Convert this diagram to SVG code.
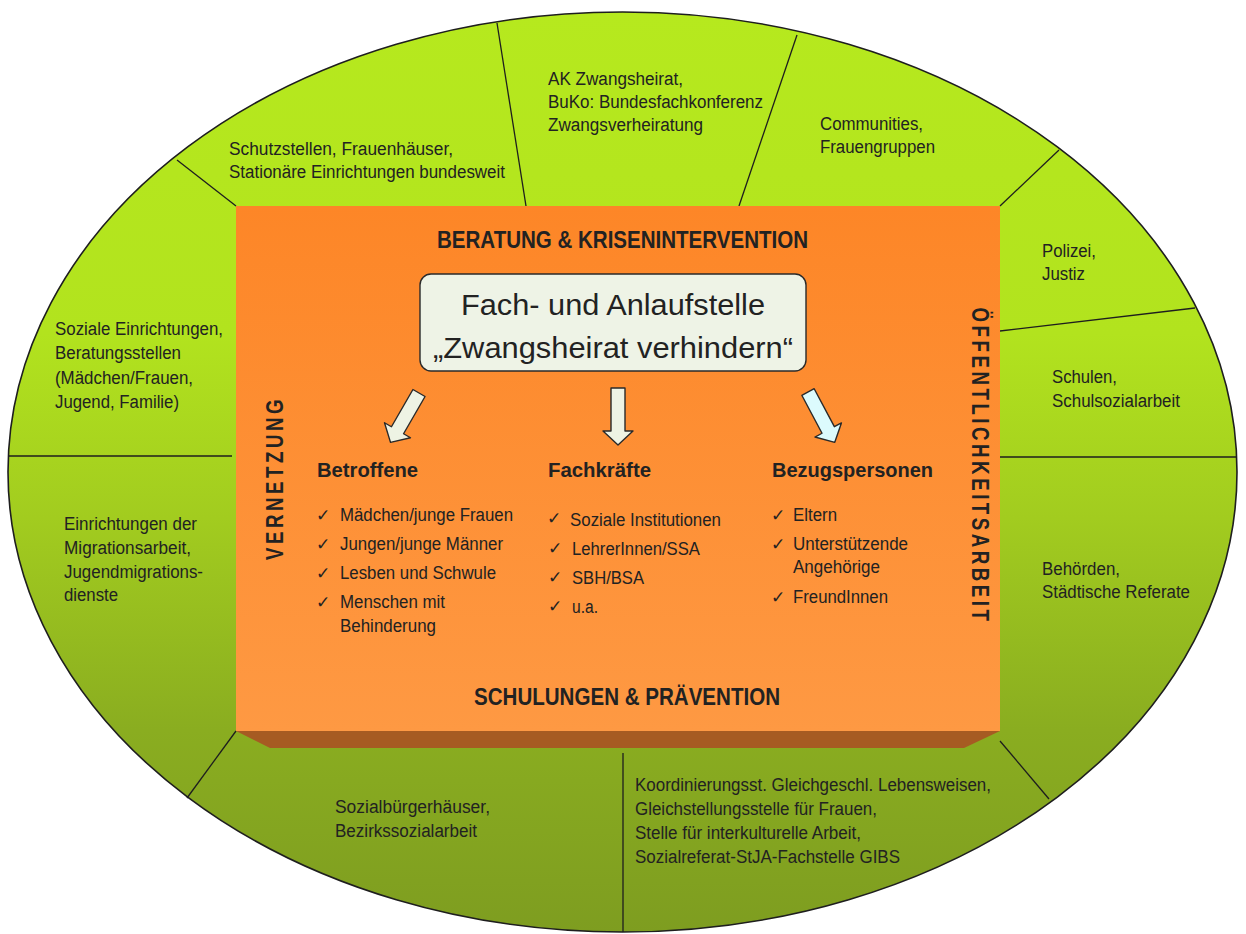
<svg xmlns="http://www.w3.org/2000/svg" width="1246" height="934" viewBox="0 0 1246 934">
  <defs>
    <linearGradient id="ringFill" x1="0" y1="0" x2="0" y2="1">
      <stop offset="0" stop-color="#b6e91e"/>
      <stop offset="0.35" stop-color="#b2e31e"/>
      <stop offset="0.55" stop-color="#a2cc1f"/>
      <stop offset="0.78" stop-color="#8aad20"/>
      <stop offset="1" stop-color="#7e9d20"/>
    </linearGradient>
    <linearGradient id="boxFill" x1="0" y1="0" x2="0" y2="1">
      <stop offset="0" stop-color="#fd8627"/>
      <stop offset="1" stop-color="#fe9943"/>
    </linearGradient>
    <path id="blockArrow" d="M -7 0 L 7 0 L 7 43 L 15 43 L 0 57 L -15 43 L -7 43 Z"/>
  </defs>
  <style>
    .ring { font-family: "Liberation Sans", Arial, sans-serif; font-size: 18px; fill: #222; }
    .head { font-family: "Liberation Sans", Arial, sans-serif; font-weight: bold; fill: #222; }
    .item { font-family: "Liberation Sans", Arial, sans-serif; font-size: 18px; fill: #222; }
    .chk { font-family: "DejaVu Sans", sans-serif; font-size: 17px; fill: #222; }
    .title { font-family: "Liberation Sans", Arial, sans-serif; font-size: 30px; fill: #222; }
    .vert { font-family: "Liberation Sans", Arial, sans-serif; font-weight: bold; font-size: 24px; letter-spacing: 4.5px; fill: #222; }
    .divider { stroke: #1e1e1e; stroke-width: 1.3; fill: none; }
    .arrow { stroke: #2a2a2a; stroke-width: 1.4; stroke-linejoin: round; }
  </style>

  <!-- outer ring -->
  <ellipse id="ring" cx="622.5" cy="472" rx="614.5" ry="460" fill="url(#ringFill)" stroke="#1e1e1e" stroke-width="1.6"/>

  <!-- sector dividers -->
  <g id="dividers" class="divider">
    <line x1="177" y1="160" x2="236" y2="206"/>
    <line x1="497" y1="23" x2="526" y2="206"/>
    <line x1="797" y1="35" x2="739" y2="206"/>
    <line x1="1059" y1="150" x2="1000" y2="206"/>
    <line x1="1000" y1="331" x2="1195" y2="308"/>
    <line x1="1000" y1="457" x2="1237" y2="457"/>
    <line x1="8" y1="456" x2="232" y2="456"/>
    <line x1="236" y1="731" x2="187" y2="798"/>
    <line x1="623" y1="753" x2="623" y2="932"/>
    <line x1="1000" y1="741" x2="1049" y2="799"/>
  </g>

  <!-- ring sectors -->
  <g id="sector-schutzstellen" class="ring">
    <text x="229" y="155" textLength="224" lengthAdjust="spacingAndGlyphs">Schutzstellen, Frauenhäuser,</text>
    <text x="229" y="178" textLength="276" lengthAdjust="spacingAndGlyphs">Stationäre Einrichtungen bundesweit</text>
  </g>
  <g id="sector-ak" class="ring">
    <text x="548" y="85" textLength="135" lengthAdjust="spacingAndGlyphs">AK Zwangsheirat,</text>
    <text x="548" y="108" textLength="215" lengthAdjust="spacingAndGlyphs">BuKo: Bundesfachkonferenz</text>
    <text x="548" y="131" textLength="155" lengthAdjust="spacingAndGlyphs">Zwangsverheiratung</text>
  </g>
  <g id="sector-communities" class="ring">
    <text x="820" y="130" textLength="103" lengthAdjust="spacingAndGlyphs">Communities,</text>
    <text x="820" y="153" textLength="115" lengthAdjust="spacingAndGlyphs">Frauengruppen</text>
  </g>
  <g id="sector-polizei" class="ring">
    <text x="1042" y="257" textLength="54" lengthAdjust="spacingAndGlyphs">Polizei,</text>
    <text x="1042" y="280" textLength="43" lengthAdjust="spacingAndGlyphs">Justiz</text>
  </g>
  <g id="sector-schulen" class="ring">
    <text x="1052" y="383" textLength="65" lengthAdjust="spacingAndGlyphs">Schulen,</text>
    <text x="1052" y="407" textLength="128" lengthAdjust="spacingAndGlyphs">Schulsozialarbeit</text>
  </g>
  <g id="sector-behoerden" class="ring">
    <text x="1042" y="575" textLength="78" lengthAdjust="spacingAndGlyphs">Behörden,</text>
    <text x="1042" y="598" textLength="148" lengthAdjust="spacingAndGlyphs">Städtische Referate</text>
  </g>
  <g id="sector-koordinierung" class="ring">
    <text x="635" y="791" textLength="356" lengthAdjust="spacingAndGlyphs">Koordinierungsst. Gleichgeschl. Lebensweisen,</text>
    <text x="635" y="815" textLength="242" lengthAdjust="spacingAndGlyphs">Gleichstellungsstelle für Frauen,</text>
    <text x="635" y="839" textLength="226" lengthAdjust="spacingAndGlyphs">Stelle für interkulturelle Arbeit,</text>
    <text x="635" y="863" textLength="265" lengthAdjust="spacingAndGlyphs">Sozialreferat-StJA-Fachstelle GIBS</text>
  </g>
  <g id="sector-sozialbuergerhaeuser" class="ring">
    <text x="335" y="813" textLength="155" lengthAdjust="spacingAndGlyphs">Sozialbürgerhäuser,</text>
    <text x="335" y="837" textLength="142" lengthAdjust="spacingAndGlyphs">Bezirkssozialarbeit</text>
  </g>
  <g id="sector-migration" class="ring">
    <text x="64" y="530" textLength="133" lengthAdjust="spacingAndGlyphs">Einrichtungen der</text>
    <text x="64" y="554" textLength="127" lengthAdjust="spacingAndGlyphs">Migrationsarbeit,</text>
    <text x="64" y="578" textLength="139" lengthAdjust="spacingAndGlyphs">Jugendmigrations-</text>
    <text x="64" y="601" textLength="54" lengthAdjust="spacingAndGlyphs">dienste</text>
  </g>
  <g id="sector-soziale" class="ring">
    <text x="55" y="335" textLength="168" lengthAdjust="spacingAndGlyphs">Soziale Einrichtungen,</text>
    <text x="55" y="359" textLength="126" lengthAdjust="spacingAndGlyphs">Beratungsstellen</text>
    <text x="55" y="384" textLength="138" lengthAdjust="spacingAndGlyphs">(Mädchen/Frauen,</text>
    <text x="55" y="408" textLength="124" lengthAdjust="spacingAndGlyphs">Jugend, Familie)</text>
  </g>

  <!-- central block with bottom bevel -->
  <g id="center-block">
    <polygon points="236,731 1000,731 964,748 270,748" fill="#a65b22"/>
    <rect x="236" y="206" width="764" height="525" fill="url(#boxFill)"/>
    <text class="head" x="437" y="248" font-size="24" textLength="371" lengthAdjust="spacingAndGlyphs">BERATUNG &amp; KRISENINTERVENTION</text>
    <text class="head" x="474" y="705" font-size="23" textLength="306" lengthAdjust="spacingAndGlyphs">SCHULUNGEN &amp; PRÄVENTION</text>
    <text class="vert" transform="translate(283,478) rotate(-90) scale(0.78,1)" text-anchor="middle">VERNETZUNG</text>
    <text class="vert" transform="translate(972,466) rotate(90) scale(0.78,1)" text-anchor="middle">ÖFFENTLICHKEITSARBEIT</text>
  </g>

  <g id="title-box">
    <rect x="420" y="274" width="386" height="97" rx="11" fill="#eef3e6" stroke="#2a2a2a" stroke-width="1.4"/>
    <text class="title" x="461" y="315" textLength="304" lengthAdjust="spacingAndGlyphs">Fach- und Anlaufstelle</text>
    <text class="title" x="433" y="358" textLength="360" lengthAdjust="spacingAndGlyphs">„Zwangsheirat verhindern“</text>
  </g>

  <!-- arrows from the title box to the three target groups -->
  <g id="connectors" class="arrow">
    <use href="#blockArrow" transform="translate(419,393) rotate(30)" fill="#eef3e4"/>
    <use href="#blockArrow" transform="translate(618,388)" fill="#eef3e4"/>
    <use href="#blockArrow" transform="translate(808,392) rotate(-28)" fill="#dcfbfd"/>
  </g>

  <g id="group-betroffene">
    <text class="head" x="317" y="477" font-size="21" textLength="101" lengthAdjust="spacingAndGlyphs">Betroffene</text>
    <text class="chk" x="316" y="521">✓</text>
    <text class="item" x="340" y="521" textLength="173" lengthAdjust="spacingAndGlyphs">Mädchen/junge Frauen</text>
    <text class="chk" x="316" y="550">✓</text>
    <text class="item" x="340" y="550" textLength="163" lengthAdjust="spacingAndGlyphs">Jungen/junge Männer</text>
    <text class="chk" x="316" y="579">✓</text>
    <text class="item" x="340" y="579" textLength="156" lengthAdjust="spacingAndGlyphs">Lesben und Schwule</text>
    <text class="chk" x="316" y="608">✓</text>
    <text class="item" x="340" y="608" textLength="105" lengthAdjust="spacingAndGlyphs">Menschen mit</text>
    <text class="item" x="340" y="632" textLength="96" lengthAdjust="spacingAndGlyphs">Behinderung</text>
  </g>

  <g id="group-fachkraefte">
    <text class="head" x="548" y="477" font-size="21" textLength="103" lengthAdjust="spacingAndGlyphs">Fachkräfte</text>
    <text class="chk" x="547" y="524" font-size="20">✓</text>
    <text class="item" x="570" y="526" textLength="151" lengthAdjust="spacingAndGlyphs">Soziale Institutionen</text>
    <text class="chk" x="548" y="554">✓</text>
    <text class="item" x="572" y="555" textLength="128" lengthAdjust="spacingAndGlyphs">LehrerInnen/SSA</text>
    <text class="chk" x="548" y="583">✓</text>
    <text class="item" x="572" y="584" textLength="72" lengthAdjust="spacingAndGlyphs">SBH/BSA</text>
    <text class="chk" x="548" y="612">✓</text>
    <text class="item" x="572" y="613" textLength="26" lengthAdjust="spacingAndGlyphs">u.a.</text>
  </g>

  <g id="group-bezugspersonen">
    <text class="head" x="772" y="477" font-size="21" textLength="161" lengthAdjust="spacingAndGlyphs">Bezugspersonen</text>
    <text class="chk" x="771" y="521">✓</text>
    <text class="item" x="793" y="521" textLength="44" lengthAdjust="spacingAndGlyphs">Eltern</text>
    <text class="chk" x="771" y="550">✓</text>
    <text class="item" x="793" y="550" textLength="115" lengthAdjust="spacingAndGlyphs">Unterstützende</text>
    <text class="item" x="793" y="573" textLength="87" lengthAdjust="spacingAndGlyphs">Angehörige</text>
    <text class="chk" x="771" y="603">✓</text>
    <text class="item" x="793" y="603" textLength="95" lengthAdjust="spacingAndGlyphs">FreundInnen</text>
  </g>
</svg>
